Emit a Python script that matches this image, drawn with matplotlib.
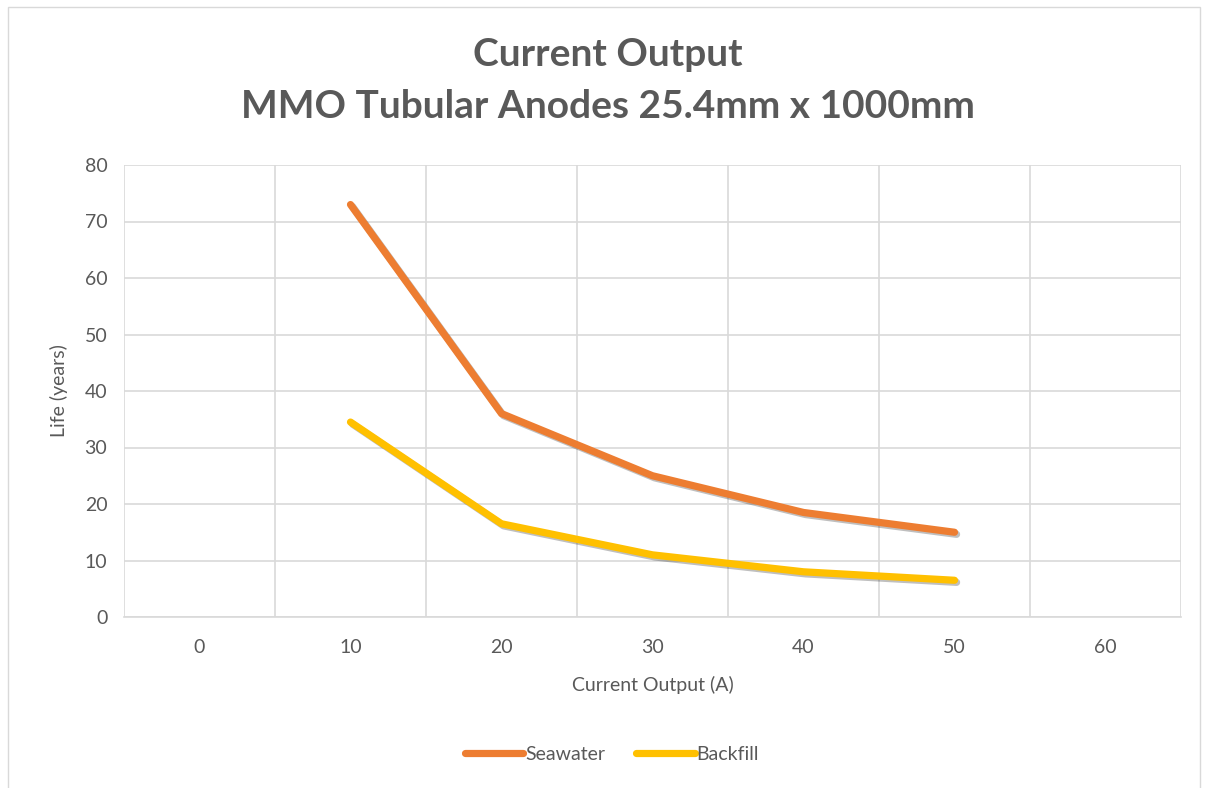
import matplotlib.pyplot as plt
import matplotlib.patheffects as pe
from matplotlib.patches import Rectangle

categories = [0, 10, 20, 30, 40, 50, 60]
x_points = [10, 20, 30, 40, 50]
seawater = [73, 36, 25, 18.5, 15]
backfill = [34.5, 16.5, 11, 8, 6.5]

GRID = "#d9d9d9"
TXT = "#595959"
plt.rcParams["font.family"] = ["Lato", "DejaVu Sans"]

fig = plt.figure(figsize=(12.05, 7.88), dpi=100)
W, H = 1205, 788
ax = fig.add_axes([124 / W, 1 - 617 / H, (1181 - 124) / W, (617 - 165) / H])

# chart border
fig.patches.append(Rectangle((8 / W, -0.01), (1200 - 8) / W, 1 - 7 / H + 0.01,
                             transform=fig.transFigure, fill=False,
                             edgecolor=GRID, linewidth=1))

pos = [categories.index(v) for v in x_points]
shadow = [pe.SimpleLineShadow(offset=(1.5, -1.5), shadow_color="k", alpha=0.25),
          pe.Normal()]
ax.plot(pos, seawater, color="#ED7D31", lw=5.2, solid_capstyle="round",
        solid_joinstyle="round", label="Seawater", path_effects=shadow, zorder=3)
ax.plot(pos, backfill, color="#FFC000", lw=5.2, solid_capstyle="round",
        solid_joinstyle="round", label="Backfill", path_effects=shadow, zorder=3)

ax.set_xlim(-0.5, len(categories) - 0.5)
ax.set_ylim(0, 80)
ax.set_yticks(range(0, 81, 10))
ax.set_xticks(range(len(categories)))
ax.set_xticklabels([str(c) for c in categories])
ax.set_xticks([i - 0.5 for i in range(len(categories) + 1)], minor=True)
ax.grid(axis="y", color=GRID, lw=1.2)
ax.grid(axis="x", which="minor", color=GRID, lw=1.2)
ax.set_axisbelow(True)
for s in ["top", "right", "left"]:
    ax.spines[s].set_visible(False)
ax.spines["bottom"].set_color(GRID)
ax.spines["bottom"].set_linewidth(1.2)
ax.tick_params(which="both", length=0, labelsize=14, colors=TXT)
ax.tick_params(axis="x", pad=16)
ax.tick_params(axis="y", pad=12)

ax.set_xlabel("Current Output (A)", fontsize=14, color=TXT, labelpad=14)
ax.set_ylabel("Life (years)", fontsize=14, color=TXT, labelpad=12)

fig.text(608 / W, 1 - 55 / H, "Current Output", ha="center", va="center",
         fontsize=28, fontweight="bold", color=TXT)
fig.text(608 / W, 1 - 107 / H, "MMO Tubular Anodes 25.4mm x 1000mm",
         ha="center", va="center", fontsize=28, fontweight="bold", color=TXT)

leg = fig.legend(loc="center", bbox_to_anchor=(612 / W, 1 - 754 / H), ncol=2,
                 frameon=False, fontsize=14, handlelength=3.0,
                 handletextpad=0.1, columnspacing=1.6)
for t in leg.get_texts():
    t.set_color(TXT)
for h in leg.legend_handles:
    h.set_path_effects([])

fig.savefig("out.png", dpi=100, facecolor="white")
